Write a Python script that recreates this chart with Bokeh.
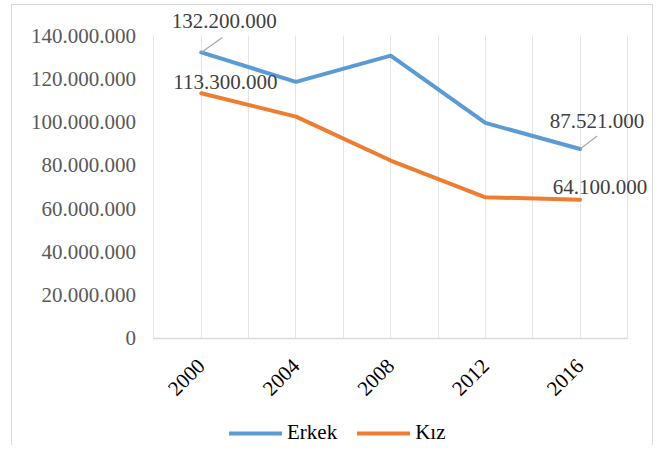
import math
from bokeh.plotting import figure
from bokeh.models import (ColumnDataSource, FixedTicker, CustomJSTickFormatter,
                          Legend, LegendItem, Range1d, LabelSet, Arrow)
from bokeh.core.properties import value
from bokeh.embed import file_html
from bokeh.resources import INLINE

# ---------------- data ----------------
years = [2000, 2004, 2008, 2012, 2016]
erkek = [132_200_000, 118_600_000, 130_700_000, 99_600_000, 87_521_000]
kiz = [113_300_000, 102_500_000, 82_200_000, 65_200_000, 64_100_000]
series_names = ["Erkek", "Kız"]
y_ticks = [0, 20_000_000, 40_000_000, 60_000_000, 80_000_000,
           100_000_000, 120_000_000, 140_000_000]
x_start, x_end = 1998, 2018
grid_years = list(range(x_start, x_end + 1, 2))

# ---------------- style / layout ----------------
FONT = "Liberation Serif"
FS = "21px"
BLUE = "#5B9BD5"
ORANGE = "#ED7D31"
W, H = 642, 441          # outer size (border-box)
CW, CH = W - 2, H - 1    # canvas size (left/right/top borders only)
# plot-area edges in canvas pixels
PL, PR, PT, PB = 141, 613, 30, 332
px_per_year = (PR - PL) / (x_end - x_start)
px_per_val = (PB - PT) / (y_ticks[-1] - y_ticks[0])

xr = Range1d(x_start - PL / px_per_year, x_end + (CW - PR) / px_per_year)
yr = Range1d(y_ticks[0] - (CH - PB) / px_per_val, y_ticks[-1] + PT / px_per_val)

p = figure(width=W, height=H, output_backend="svg", toolbar_location=None,
           x_range=xr, y_range=yr,
           min_border=0, min_border_left=0, min_border_right=0,
           min_border_top=0, min_border_bottom=0)
p.styles = {"border": "1px solid #d9d9d9", "border-bottom": "none",
            "margin-left": "11px", "margin-top": "4px"}
p.outline_line_color = None
p.background_fill_color = "white"
p.border_fill_color = "white"

# axes drawn at fixed data locations
p.xaxis.fixed_location = y_ticks[0]
p.xaxis.bounds = (x_start, x_end)
p.xaxis.ticker = FixedTicker(ticks=years)
p.xaxis.major_label_orientation = math.pi / 4
p.xaxis.major_label_text_font = FONT
p.xaxis.major_label_text_font_size = FS
p.xaxis.major_label_text_color = "#000000"
p.xaxis.axis_line_color = "#d9d9d9"
p.xaxis.axis_line_width = 1.5
p.xaxis.major_tick_line_color = None
p.xaxis.minor_tick_line_color = None
p.xaxis.major_tick_out = 0
p.xaxis.major_tick_in = 0
p.xaxis.major_label_standoff = 24

p.yaxis.fixed_location = x_start
p.yaxis.bounds = (y_ticks[0], y_ticks[-1])
p.yaxis.ticker = FixedTicker(ticks=y_ticks)
p.yaxis.formatter = CustomJSTickFormatter(code="""
    return Math.round(tick).toString().replace(/\\B(?=(\\d{3})+(?!\\d))/g, ".");
""")
p.yaxis.major_label_text_font = FONT
p.yaxis.major_label_text_font_size = FS
p.yaxis.major_label_text_color = "#595959"
p.yaxis.axis_line_color = None
p.yaxis.major_tick_line_color = None
p.yaxis.minor_tick_line_color = None
p.yaxis.major_tick_out = 0
p.yaxis.major_tick_in = 0
p.yaxis.major_label_standoff = 18

p.ygrid.grid_line_color = None
g = p.xgrid[0]
if "cross_bounds" in g.properties():
    g.ticker = FixedTicker(ticks=grid_years)
    g.cross_bounds = (y_ticks[0], y_ticks[-1])
    g.grid_line_color = "#e4e4e4"
    g.grid_line_width = 1
    g.level = "underlay"
else:
    g.grid_line_color = None
    p.segment(x0=grid_years, x1=grid_years,
              y0=[y_ticks[0]] * len(grid_years), y1=[y_ticks[-1]] * len(grid_years),
              line_color="#e4e4e4", line_width=1)

# lines
r1 = p.line(years, erkek, line_color=BLUE, line_width=4, line_join="round", line_cap="round")
r2 = p.line(years, kiz, line_color=ORANGE, line_width=4, line_join="round", line_cap="round")

# data labels (first and last points)
def fmt(v):
    return f"{v:,}".replace(",", ".")

lbl = ColumnDataSource(dict(
    x=[years[0], years[0], years[-1], years[-1]],
    y=[erkek[0], kiz[0], erkek[-1], kiz[-1]],
    text=[fmt(erkek[0]), fmt(kiz[0]), fmt(erkek[-1]), fmt(kiz[-1])],
    dx=[23, 24, 17, 20],
    dy=[31, 11, 28, 13],
))
p.add_layout(LabelSet(x="x", y="y", text="text", x_offset="dx", y_offset="dy", source=lbl,
                      text_font=value(FONT), text_font_size=FS, text_color="#404040",
                      text_align="center", text_baseline="middle"))

# leader lines for Erkek labels
lead_dx = [21, 17]
lead_dy = [15, 13]
lx0 = [years[0], years[-1]]
ly0 = [erkek[0], erkek[-1]]
lead = ColumnDataSource(dict(
    x0=lx0, y0=ly0,
    x1=[x + d / px_per_year for x, d in zip(lx0, lead_dx)],
    y1=[y + d / px_per_val for y, d in zip(ly0, lead_dy)],
))
p.add_layout(Arrow(end=None, start=None, x_start="x0", y_start="y0", x_end="x1", y_end="y1",
                   source=lead, line_color="#a6a6a6", line_width=1.2))

legend = Legend(items=[LegendItem(label=series_names[0], renderers=[r1]),
                       LegendItem(label=series_names[1], renderers=[r2])],
                orientation="horizontal", location=(217, 1),
                glyph_width=53, glyph_height=20, label_height=20,
                label_standoff=5, spacing=20, padding=0, margin=0,
                border_line_color=None, background_fill_alpha=0,
                label_text_font=FONT, label_text_font_size=FS,
                label_text_color="#000000")
p.add_layout(legend)

open("out.html", "w").write(file_html(p, INLINE))
